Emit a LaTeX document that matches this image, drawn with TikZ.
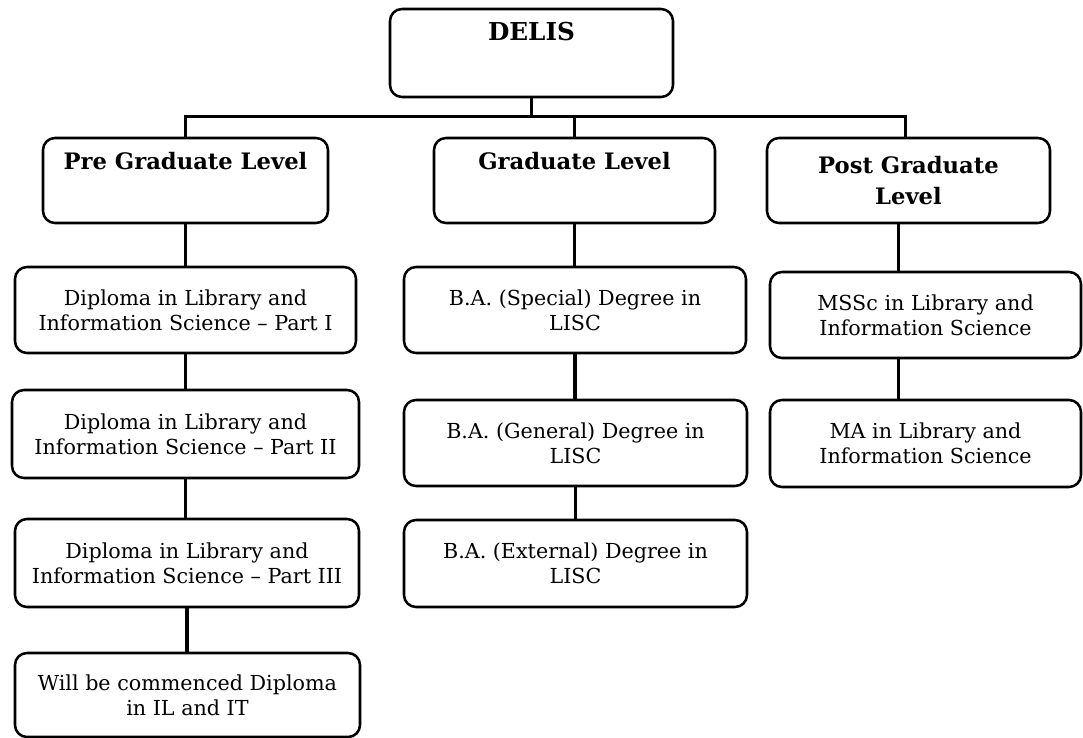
\documentclass[tikz,border=0pt]{standalone}
\usepackage{fontspec}
\setmainfont{DejaVu Serif}
\usetikzlibrary{positioning,calc}

\begin{document}
\begin{tikzpicture}
[x=0.75pt,y=-0.75pt,
boxsize/.style 2 args={minimum width=#1*0.75pt,minimum height=#2*0.75pt},
box/.style={draw=black,line width=1.9pt,rounded corners=9pt,align=center,inner sep=0pt,
  font=\fontsize{15.5}{18.75}\selectfont},
head/.style={box,font=\fontsize{17}{23}\selectfont\bfseries},
link/.style={line width=2.4pt}]
\useasboundingbox[fill=white] (0,0) rectangle (1083,738);
%%
% top
%%
\node[head,boxsize={283}{88},font=\fontsize{18.5}{25}\selectfont\bfseries] (delis) at (531.5,53) {DELIS\\ \strut};
%%
% levels
%%
\node[head,boxsize={285}{85}] (pre) at (185.5,180.5) {Pre Graduate Level\\ \strut};
\node[head,boxsize={281}{85}] (grad) at (574.5,180.5) {Graduate Level\\ \strut};
\node[head,boxsize={283}{85}] (post) at (908.5,180.5) {Post Graduate\\ Level};
\draw[link] (delis.south) -- ++(0,18) -| (pre.north);
\draw[link] (delis.south) -- ++(0,18) -| (grad.north);
\draw[link] (delis.south) -- ++(0,18) -| ([xshift=-2.5pt]post.north);
%%
% pre graduate
%%
\node[box,boxsize={341}{86}] (dip1) at (185.5,310) {Diploma in Library and\\ Information Science -- Part I};
\node[box,boxsize={347}{88}] (dip2) at (185.5,434) {Diploma in Library and\\ Information Science -- Part II};
\node[box,boxsize={344}{88}] (dip3) at (187,563) {Diploma in Library and\\ Information Science -- Part III};
\node[box,boxsize={345}{84}] (will) at (187.5,695) {Will be commenced Diploma\\ in IL and IT};
\draw[link] (pre.south) -- (pre.south |- dip1.north);
\draw[link] (dip1.south) -- (dip1.south |- dip2.north);
\draw[link] (dip2.south) -- (dip2.south |- dip3.north);
\draw[link] (dip3.south) -- (dip3.south |- will.north);
%%
% graduate
%%
\node[box,boxsize={342}{86}] (baspec) at (575,310) {B.A. (Special) Degree in\\ LISC};
\node[box,boxsize={343}{86}] (bagen) at (575.5,443) {B.A. (General) Degree in\\ LISC};
\node[box,boxsize={343}{87}] (baext) at (575.5,563.5) {B.A. (External) Degree in\\ LISC};
\draw[link] (grad.south) -- (grad.south |- baspec.north);
\draw[link] (baspec.south) -- (baspec.south |- bagen.north);
\draw[link] (bagen.south) -- (bagen.south |- baext.north);
%%
% post graduate
%%
\node[box,boxsize={311}{86}] (mssc) at (925.5,315) {MSSc in Library and\\ Information Science};
\node[box,boxsize={311}{87}] (ma) at (925.5,443.5) {MA in Library and\\ Information Science};
\draw[link] ([xshift=-7.5pt]post.south) -- ([xshift=-7.5pt]post.south |- mssc.north);
\draw[link] ([xshift=-7.5pt]post.south |- mssc.south) -- ([xshift=-7.5pt]post.south |- ma.north);
\end{tikzpicture}
\end{document}
